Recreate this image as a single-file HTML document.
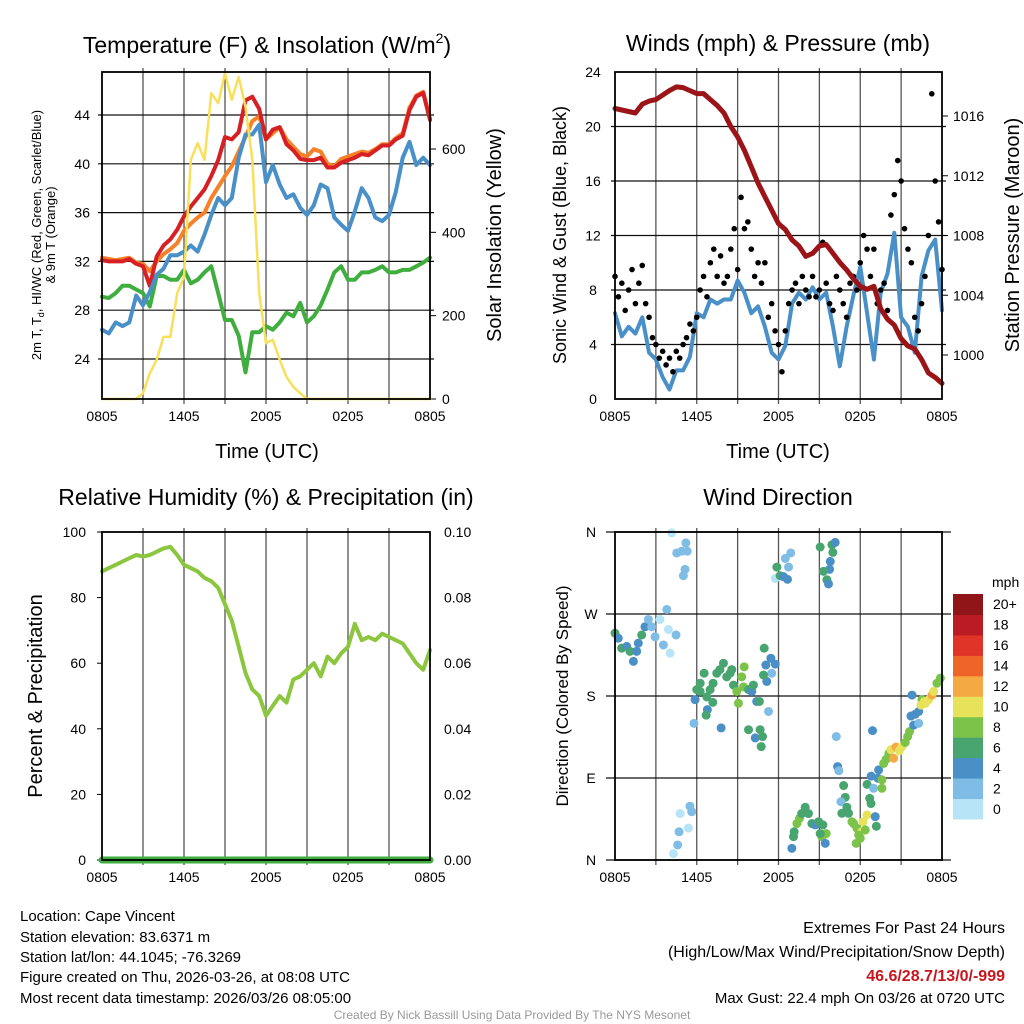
<!DOCTYPE html>
<html><head><meta charset="utf-8">
<style>
html,body{margin:0;padding:0;background:#fff;}
svg{display:block;font-family:"Liberation Sans",Arial,sans-serif;}
</style></head>
<body>
<svg id="chart" width="1024" height="1024" viewBox="0 0 1024 1024" xmlns="http://www.w3.org/2000/svg">
<rect width="1024" height="1024" fill="#fff"/>
<g id="layer"></g>
<text x="267" y="53" font-size="23" text-anchor="middle">Temperature (F) &amp; Insolation (W/m<tspan font-size="14" dy="-10">2</tspan><tspan dy="10">)</tspan></text>
<text x="778" y="51" font-size="23" text-anchor="middle">Winds (mph) &amp; Pressure (mb)</text>
<text x="266" y="505" font-size="23" text-anchor="middle">Relative Humidity (%) &amp; Precipitation (in)</text>
<text x="778" y="505" font-size="23" text-anchor="middle">Wind Direction</text>
<text x="267" y="458" font-size="20" text-anchor="middle">Time (UTC)</text>
<text x="778" y="458" font-size="20" text-anchor="middle">Time (UTC)</text>
<text transform="translate(41,235) rotate(-90)" font-size="13" text-anchor="middle">2m T, T<tspan font-size="9" dy="3">d</tspan><tspan dy="-3">, HI/WC (Red, Green, Scarlet/Blue)</tspan></text>
<text transform="translate(55,235) rotate(-90)" font-size="13" text-anchor="middle">&amp; 9m T (Orange)</text>
<text transform="translate(501,235) rotate(-90)" font-size="20" text-anchor="middle">Solar Insolation (Yellow)</text>
<text transform="translate(566,235) rotate(-90)" font-size="18" text-anchor="middle">Sonic Wind &amp; Gust (Blue, Black)</text>
<text transform="translate(1019,235) rotate(-90)" font-size="20" text-anchor="middle">Station Pressure (Maroon)</text>
<text transform="translate(42,696) rotate(-90)" font-size="20" text-anchor="middle">Percent &amp; Precipitation</text>
<text transform="translate(568,696) rotate(-90)" font-size="17" text-anchor="middle">Direction (Colored By Speed)</text>
<g font-size="15">
<text x="20" y="921">Location: Cape Vincent</text>
<text x="20" y="942">Station elevation: 83.6371 m</text>
<text x="20" y="962">Station lat/lon: 44.1045; -76.3269</text>
<text x="20" y="982">Figure created on Thu, 2026-03-26, at 08:08 UTC</text>
<text x="20" y="1003">Most recent data timestamp: 2026/03/26 08:05:00</text>
</g>
<g font-size="16" text-anchor="end">
<text x="1005" y="933">Extremes For Past 24 Hours</text>
<text x="1005" y="957">(High/Low/Max Wind/Precipitation/Snow Depth)</text>
<text x="1005" y="981" fill="#c8161d" font-weight="bold">46.6/28.7/13/0/-999</text>
<text x="1005" y="1003" font-size="15">Max Gust: 22.4 mph On 03/26 at 0720 UTC</text>
</g>
<text x="512" y="1019" font-size="12" fill="#999" text-anchor="middle">Created By Nick Bassill Using Data Provided By The NYS Mesonet</text>
</svg>
<script>
// ---------- data (half-hourly, 0..24 h from 0805 UTC) ----------
const timeLabels=["0805","1405","2005","0205","0805"];
const tempTicks=[24,28,32,36,40,44];
const solarTicks=[0,200,400,600];
const windTicks=[0,4,8,12,16,20,24];
const presTicks=[1000,1004,1008,1012,1016];
const rhTicks=[0,20,40,60,80,100];
const precipTicks=["0.00","0.02","0.04","0.06","0.08","0.10"];
const dirTicks=["N","E","S","W","N"];
const speedLabels=["0","2","4","6","8","10","12","14","16","18","20+"];
const speedColors=["#b7e4f7","#7fbde6","#4a8fc6","#48a56f","#7cc34a","#e6e25a","#f5a943","#ef6428","#e03429","#bb1c24","#8f1519"];

const tempRed=[32.1,32,32,32,32.2,31.8,31.6,30,32.4,33.3,33.8,34.6,35.7,36.5,37.2,37.9,39,40.3,42.2,42,42.6,45.2,45.5,44.5,42,42.8,43,41.6,41.1,40.4,40.3,40.3,40.5,39.7,39.7,40.1,40.3,40.5,40.8,40.7,41.1,41.5,41.5,42,42.3,44.4,45.5,45.8,43.6];
const temp9m=[32.3,32.2,32.1,32.2,32.3,31.9,31.8,31.2,32,32.6,33,33.5,34.5,35.1,35.6,36,37.2,38.1,39,39.8,41,42.2,43.5,43.9,42,42.5,43,42,41.4,40.8,40.6,41.2,41,40,39.8,40.4,40.6,40.8,41,40.9,41.2,41.6,41.6,42.1,42.5,44.6,45.6,45.9,43.7];
const heatIndex=[26.4,26.1,27,26.7,27,29.2,28.4,29.5,30.9,31.4,32.5,32.5,32.8,33.3,32.8,34.2,35.8,37.2,36.6,37.2,40.5,42.4,42.4,43.2,38.5,39.9,38.3,37.2,37.5,36.4,35.8,36.6,38.3,38,35.6,35,34.5,36.1,38,37.2,35.6,35.3,35.8,37.7,40.5,41.8,39.9,40.5,39.9];
const dewpoint=[29.1,29,29.4,30,30,29.7,29.4,28.3,30.8,30.8,30.5,30.5,31.3,30.2,30.5,31.1,31.6,29.4,27.2,27.2,25.9,22.9,26.2,26.2,26.7,26.4,27,27.8,27.5,28.6,27,27.5,28.4,29.7,31.1,31.6,30.5,30.5,31.1,31.1,31.3,31.6,31.1,31.1,31.3,31.3,31.6,31.9,32.3];
const solar=[0,0,0,0,0,0,14,62,94,149,149,254,293,574,614,574,734,710,782,718,773,701,574,254,134,142,94,53,29,14,0,0,0,0,0,0,0,0,0,0,0,0,0,0,0,0,0,0,0];
const pressure=[1016.5,1016.4,1016.3,1016.2,1016.8,1017,1017.1,1017.4,1017.7,1017.95,1017.9,1017.7,1017.5,1017.5,1017.1,1016.7,1016.2,1015.3,1014.6,1013.7,1012.6,1011.5,1010.6,1009.7,1008.8,1008.4,1007.7,1007.3,1006.6,1006.8,1007.3,1007.4,1006.8,1006.2,1005.7,1005.1,1004.6,1004.4,1004.6,1003.1,1002.4,1002,1001.1,1000.6,1000.4,999.7,998.8,998.5,998.1];
const windSpeed=[6.3,4.6,5.3,4.8,6,3.4,2.9,1.6,0.7,2.1,2.1,3.1,6.3,6,7.3,7,7.3,7.3,8.7,7.8,6.3,6.8,5.3,3.4,2.9,3.9,7,7.8,7.3,8.2,7.3,7.8,5.3,2.4,5.3,7.6,9.7,6.3,2.9,7.8,9.2,12.2,6,5.3,3.4,9,10.9,11.7,6.5];
// quarter-hourly gusts
const gusts=[9,7.5,8.5,6.5,8,9.5,7,8.5,9.8,7,6,4.5,4,3,3.5,2.5,3,2,3.5,3,4,4.5,5.5,5,6,8,9,7.5,10,11,9,10.5,8.5,9,11,12.5,9.5,14.8,12.5,13,11,9,10,8.5,10,6,7,5,4,2,5,7,8,8.5,7,9,8,7.5,9,7.5,8,11.5,8.5,7,6.5,9,8,7,6,8.5,9,8,10,12,11,9,11,7,8,8.5,6.5,13.5,15,17.5,16,12.5,11,10,6,5,7,9,12,22.4,16,13,9.5];
const rh=[88,89,90,91,92,93,92.5,93,94,95,95.5,93,90,89,88,86,85,83,78,73,65,57,52,50,44,47,50,48,55,56,58,60,56,62,60,63,65,72,67,68,67,69,68,67,66,63,60,58,64];
const precip=[0,0,0,0,0,0,0,0,0,0,0,0,0,0,0,0,0,0,0,0,0,0,0,0,0];
// wind direction scatter
const wdTime=[0,0.24,0.49,0.86,1.1,1.35,1.59,1.71,1.96,2.2,2.45,2.69,2.94,3.3,3.55,3.92,4.04,3.8,4.48,4.16,4.53,4.9,5.2,5.3,5.14,5.02,4.78,5.5,5.63,5.39,4.7,4.6,4.29,5.88,6,6.25,6.54,6.74,6.98,7.2,7.47,7.7,7.96,8.2,8.45,8.57,8.7,8.94,9.06,9.3,9.48,9.43,9.8,10.04,10.16,10.4,10.6,9.8,10.29,10.65,10.83,10.73,6.78,6.69,5.8,7.79,7.18,6.25,10.95,11.07,11.44,11.76,11.5,11.14,10.9,11.27,11.76,11.88,12.12,12.5,12.74,12.9,12.66,12.37,12.98,13.1,13.35,13.54,13.7,13.96,14.2,14.45,14.7,14.94,15.26,15.18,15.43,15.5,15.06,13.15,15.06,15.92,16.16,15.99,15.8,15.75,15.3,15.55,15.67,16.24,16.34,16.43,16.78,16.9,16.58,17.02,16.65,17.14,17.39,17.76,18.2,18.5,18.1,17.51,17.88,17.7,18,18.37,19.18,19.1,18.69,18.79,18.5,18.9,18.98,19.3,19.59,19.59,19.35,18.8,19.72,19.9,20.1,20.25,20.45,20.62,20.87,21.06,21.3,21.48,21.62,21.92,22.29,21.72,22.04,22.29,21.8,22.53,22.78,23.02,23.27,23.39,23.63,23.88,22.46,22.7];
const wdDir=[249,243.5,232.5,234.4,229,218,229,238,247,256,264,256,245,264,236,253,227,275,247,359,337,339,348,339,319,312,51,59,53,35,31,16.5,7,176,187,194,205,179,187,194,205,209,216,201,205,209,192,185,172,201,212,190,187,185,192,174,174,143,134,143,135.5,124.5,165,159,150,145,173,185,232.5,214,221.5,215,205,196,203,163,309,321.5,312,331,321.5,337,308,311,12.8,25.6,40,45.8,51,57.9,51,40,38.5,42,38.5,25.6,18.3,29,29,31,343.5,346,348.6,337.6,327.7,319,316.8,307.6,303,135.5,102.5,98,81.7,68.8,64,57.9,51.3,51.3,42,34.8,42,49.4,31,40,27.5,18.3,23.8,33,37,47.6,67.7,62,83,142,78.7,89.7,88,78.7,98.9,92,106,110.6,117,121,111.7,124,120,124.5,129,135.5,141,148,150,158,160,163,181,176,172,176,181,185,194,199.6,170,174];
const wdSpeed=[6,5,6,4,6,4,4,4,6,4,3,2,2,1,2,1,1,2,3,1,2,2,2,2,2,2,1,2,2,1,2,2,1,4,6,6,6,6,6,6,6,6,6,6,6,6,6,8,8,8,8,8,6,4,6,4,6,6,4,6,6,6,4,6,2,4,6,6,6,4,4,4,2,4,6,2,1,6,6,2,2,2,4,4,4,6,8,8,6,6,6,6,4,6,6,8,4,8,6,6,6,6,4,6,4,4,6,6,4,2,4,2,6,6,2,6,6,6,8,8,10,10,10,8,8,8,8,8,6,4,6,6,6,4,2,4,8,8,4,4,8,8,8,10,12,12,10,10,8,8,8,4,2,4,4,4,4,8,10,10,12,10,8,8,10,10];

// ---------- helpers ----------
const NS="http://www.w3.org/2000/svg";
const layer=document.getElementById('layer');
function mk(tag,attrs,parent){const e=document.createElementNS(NS,tag);for(const k in attrs)e.setAttribute(k,attrs[k]);(parent||layer).appendChild(e);return e;}
function lin(d0,d1,r0,r1){return v=>r0+(v-d0)*(r1-r0)/(d1-d0);}

const P1={x0:102,x1:430,y0:72,y1:399};
const P2={x0:615,x1:942,y0:72,y1:399};
const P3={x0:102,x1:430,y0:532,y1:860};
const P4={x0:615,x1:942,y0:532,y1:860};

function gridV(P){
  for(let i=1;i<8;i++){const x=P.x0+(P.x1-P.x0)*i/8;
    const l=mk('line',{x1:x,x2:x,y1:P.y0-4,y2:P.y1+5,stroke:'#555','stroke-width':1.3});
    
    }
  timeLabels.forEach((t,i)=>{const x=P.x0+(P.x1-P.x0)*i/4;
    const tx=mk('text',{x:x,y:P.y1+22,'font-size':14,'text-anchor':'middle'});tx.textContent=t;
    
    });
}
function gridH(P,y,ext){const l=mk('line',{x1:P.x0-(ext||0),x2:P.x1+(ext||0),y1:y,y2:y,stroke:'#111','stroke-width':1.2});
  
  }
function box(P,name){const r=mk('rect',{x:P.x0,y:P.y0,width:P.x1-P.x0,height:P.y1-P.y0,fill:'none',stroke:'#000','stroke-width':1.8});
  
  }
function label(x,y,t,anchor,name,size){const tx=mk('text',{x:x,y:y,'font-size':size||14,'text-anchor':anchor});tx.textContent=t;
  
  }
function line(xs,ys,P,sx,sy,color,w,name){
  const d=ys.map((v,i)=>(i?'L':'M')+sx(xs[i]).toFixed(1)+','+sy(v).toFixed(1)).join('');
  const p=mk('path',{d:d,fill:'none',stroke:color,'stroke-width':w,'stroke-linejoin':'round','stroke-linecap':'round'});
  
  }
const hh=ys=>ys.map((_,i)=>i*24/(ys.length-1));

// ---------- Panel 1: temperature ----------
{
  const sx=lin(0,24,P1.x0,P1.x1), sy=lin(44,24,115,359), ss=lin(0,600,399,149);
  gridV(P1);
  tempTicks.forEach(v=>{gridH(P1,sy(v),4);label(90,sy(v)+5,String(v),'end','temp-tick-label');});
  solarTicks.forEach(v=>{const t=mk('line',{x1:P1.x1,x2:P1.x1+6,y1:ss(v),y2:ss(v),stroke:'#000'});
    
    
    label(442,ss(v)+5,String(v),'start','solar-tick-label');});
  line(hh(dewpoint),dewpoint,P1,sx,sy,'#3fae3f',4,'dewpoint-line');
  line(hh(temp9m),temp9m,P1,sx,sy,'#f5822a',4,'temp-9m-line');
  line(hh(tempRed),tempRed,P1,sx,sy,'#d62024',4,'temp-2m-line');
  line(hh(heatIndex),heatIndex,P1,sx,sy,'#4a90c8',4,'heat-index-line');
  line(hh(solar),solar,P1,sx,ss,'#f8e05a',2.5,'solar-line');
  box(P1,'temp-plot-area');
}
// ---------- Panel 2: wind & pressure ----------
{
  const sx=lin(0,24,P2.x0,P2.x1), sy=lin(0,24,399,72), sp=lin(1000,1016,355,116);
  gridV(P2);
  windTicks.forEach(v=>{if(v>0&&v<24)gridH(P2,sy(v),4);label(593,sy(v)+5,String(v),'middle','wind-tick-label');});
  presTicks.forEach(v=>{const t=mk('line',{x1:P2.x1,x2:P2.x1+6,y1:sp(v),y2:sp(v),stroke:'#000'});
    
    
    label(953,sp(v)+5,String(v),'start','pressure-tick-label');});
  line(hh(windSpeed),windSpeed,P2,sx,sy,'#4a90c8',4,'sonic-wind-line');
  gusts.forEach((g,i)=>{const c=mk('circle',{cx:sx(i*0.25),cy:sy(g),r:2.8,fill:'#000'});
    
    });
  line(hh(pressure),pressure,P2,sx,sp,'#9b1418',5,'pressure-line');
  box(P2,'wind-plot-area');
}
// ---------- Panel 3: RH ----------
{
  const sx=lin(0,24,P3.x0,P3.x1), sy=lin(0,100,860,532);
  gridV(P3);
  rhTicks.forEach((v,i)=>{label(86,sy(v)+5,String(v),'end','rh-tick-label');
    label(444,sy(v)+5,precipTicks[i],'start','precip-tick-label');
    const t=mk('line',{x1:P3.x0-5,x2:P3.x0,y1:sy(v),y2:sy(v),stroke:'#000'});
    
    });
  line(hh(rh),rh,P3,sx,sy,'#8cc63f',4,'rh-line');
  line(hh(precip),precip.map(v=>v*1000),P3,sx,sy,'#3fae3f',7,'precip-line');
  box(P3,'rh-plot-area');
}
// ---------- Panel 4: wind direction ----------
{
  const sx=lin(0,24,P4.x0,P4.x1), sy=lin(0,360,860,532);
  gridV(P4);
  dirTicks.forEach((t,i)=>{const y=sy(i*90);gridH(P4,y,9);label(591,y+5,t,'middle','direction-tick-label');});
  wdTime.forEach((t,i)=>{const si=Math.min(10,Math.floor(wdSpeed[i]/2));
    const c=mk('circle',{cx:sx(t),cy:sy(wdDir[i]),r:4.5,fill:speedColors[si]});
    
    });
  box(P4,'wind-direction-plot-area');
  // colorbar
  const cb0=594,cbh=225/11;
  speedColors.forEach((c,i)=>{const y=cb0+(10-i)*cbh;
    const r=mk('rect',{x:953,y:y,width:30,height:cbh+0.5,fill:c});
    
    
    label(993,y+cbh/2+5,speedLabels[i],'start','colorbar-label');});
  label(992,587,'mph','start','colorbar-title');
}
</script>
</body></html>
